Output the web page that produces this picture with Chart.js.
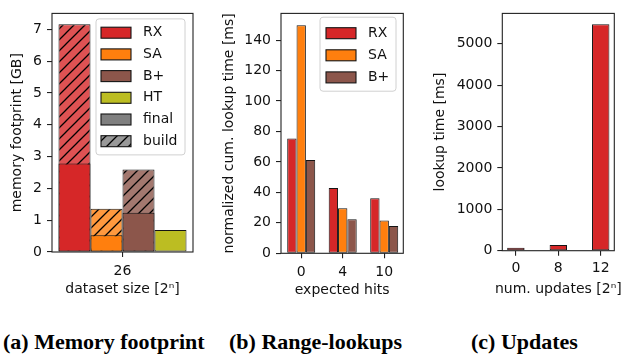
<!DOCTYPE html>
<html><head><meta charset="utf-8">
<script src="https://cdn.jsdelivr.net/npm/chart.js@4/dist/chart.umd.min.js"></script>
<style>
html,body{margin:0;padding:0;background:#fff;width:626px;height:354px;overflow:hidden;}
canvas.panel{position:absolute;top:0;}
.cap{position:absolute;top:331px;font:bold 22px "Liberation Serif",serif;line-height:22px;white-space:nowrap;color:#000;}
</style></head><body>
<canvas id="ca" class="panel" width="210" height="300" style="left:0;width:210px;height:300px"></canvas>
<canvas id="cb" class="panel" width="210" height="300" style="left:210px;width:210px;height:300px"></canvas>
<canvas id="cc" class="panel" width="206" height="300" style="left:420px;width:206px;height:300px"></canvas>
<div class="cap" style="left:3px">(a) Memory footprint</div>
<div class="cap" style="left:229px">(b) Range-lookups</div>
<div class="cap" style="left:471px">(c) Updates</div>
<script>
// ---------- data ----------
const sizeCategories = ['26'];
const methods = ['RX', 'SA', 'B+', 'HT'];
const finalGB = [2.78, 0.53, 1.23, 0.69];
const buildGB = [7.16, 1.36, 2.59, null];
const memTicks = [0, 1, 2, 3, 4, 5, 6, 7];

const hitsCategories = ['0', '4', '10'];
const rangeRX = [75.3, 42.8, 36.1];
const rangeSA = [149.7, 29.6, 21.6];
const rangeBP = [61.2, 22.3, 17.9];
const rangeTicks = [0, 20, 40, 60, 80, 100, 120, 140];

const updateCategories = ['0', '8', '12'];
const updateRX = [70, 140, 5470];
const updateTicks = [0, 1000, 2000, 3000, 4000, 5000];

// ---------- styles ----------
Chart.defaults.font.family = "'DejaVu Sans', sans-serif";
Chart.defaults.font.size = 14;
Chart.defaults.color = '#111';
Chart.defaults.animation = false;

const colors = ['#d62728', '#ff7f0e', '#8c564b', '#bcbd22'];
const buildColors = ['#de5253', '#ff993e', '#a3786f', null];
const EDGE = '#151515';

function hatch(color) {
  const s = 11, c = document.createElement('canvas');
  c.width = s; c.height = s;
  const g = c.getContext('2d');
  g.fillStyle = color; g.fillRect(0, 0, s, s);
  g.strokeStyle = '#000'; g.lineWidth = 1.3;
  g.beginPath();
  g.moveTo(0, s); g.lineTo(s, 0);
  g.moveTo(-1, 1); g.lineTo(1, -1);
  g.moveTo(s - 1, s + 1); g.lineTo(s + 1, s - 1);
  g.stroke();
  return g.createPattern(c, 'repeat');
}

const frame = {
  id: 'frame',
  afterDatasetsDraw(c) {
    const {left, top, right, bottom} = c.chartArea;
    const g = c.ctx; g.save();
    g.strokeStyle = '#222'; g.lineWidth = 1.1;
    g.strokeRect(left, top, right - left, bottom - top);
    g.restore();
  }
};

// x-axis title drawn without width limit (Chart.js squeezes titles to the axis width)
function freeXTitle(text, cy) {
  return {
    id: 'freeXTitle',
    afterDraw(c) {
      const g = c.ctx, ca = c.chartArea;
      g.save();
      g.fillStyle = '#111'; g.font = "14px 'DejaVu Sans'";
      g.textAlign = 'center'; g.textBaseline = 'middle';
      g.fillText(text, (ca.left + ca.right) / 2, cy);
      g.restore();
    }
  };
}

function legendPlugin(items, geo) {
  return {
    id: 'customLegend',
    afterDraw(c) {
      const g = c.ctx, ca = c.chartArea;
      const bx = ca.right - geo.dr - geo.w, by = ca.top + geo.dt;
      g.save();
      g.beginPath();
      g.roundRect(bx, by, geo.w, geo.h, 3);
      g.fillStyle = 'rgba(255,255,255,0.85)'; g.fill();
      g.strokeStyle = '#d0d0d0'; g.lineWidth = 1; g.stroke();
      items.forEach((it, i) => {
        const cy = by + geo.row0 + i * geo.step;
        g.fillStyle = it.fill;
        g.fillRect(bx + geo.sx, cy - 5.5, 30, 11);
        g.strokeStyle = EDGE; g.lineWidth = 1.1;
        g.strokeRect(bx + geo.sx, cy - 5.5, 30, 11);
        g.fillStyle = '#111'; g.font = "14px 'DejaVu Sans'";
        g.textAlign = 'left'; g.textBaseline = 'middle';
        g.fillText(it.text, bx + geo.tx, cy);
      });
      g.restore();
    }
  };
}

function yAxis(o) {
  return {
    min: 0, max: o.max, stacked: false,
    afterBuildTicks: s => { s.ticks = o.ticks.map(v => ({value: v})); },
    afterFit: s => { s.width = o.width; },
    border: {display: false},
    grid: {drawOnChartArea: false, drawTicks: true, tickLength: 5, color: '#222', lineWidth: 1.1},
    ticks: {padding: 5, color: '#111', font: {size: 14}, callback: v => String(v)},
    title: {display: true, text: o.title, color: '#111', font: {size: 14}, padding: {top: o.tp, bottom: 0}}
  };
}
function xTitle(text, pb) {
  return {display: true, text: text, color: '#111', font: {size: 14}, padding: {top: 0, bottom: pb}};
}
const xGrid = {drawOnChartArea: false, drawTicks: true, tickLength: 5, color: '#222', lineWidth: 1.1, offset: false};

// ---------- (a) memory footprint ----------
const dsA = [];
methods.forEach((m, i) => {
  dsA.push({label: m + ' final', data: [finalGB[i]], backgroundColor: colors[i], stack: m, order: 0,
    borderColor: EDGE, borderWidth: 1, borderSkipped: false});
  if (buildGB[i] !== null) {
    dsA.push({label: m + ' build', data: [buildGB[i]], backgroundColor: hatch(buildColors[i]), stack: m, order: 1,
      borderColor: EDGE, borderWidth: 1, borderSkipped: false});
  }
});
const legendA = methods.map((m, i) => ({text: m, fill: colors[i]}))
  .concat([{text: 'final', fill: '#808080'}, {text: 'build', fill: hatch('#999999')}]);

new Chart(document.getElementById('ca'), {
  type: 'bar',
  data: {labels: sizeCategories, datasets: dsA},
  options: {
    responsive: false, animation: false,
    categoryPercentage: 0.908, barPercentage: 1,
    layout: {padding: {top: 12, right: 17, left: 0, bottom: 0}},
    plugins: {legend: {display: false}, tooltip: {enabled: false}},
    scales: {
      x: {type: 'category', stacked: true, offset: true, grid: xGrid, border: {display: false},
        ticks: {padding: 6, color: '#111', font: {size: 14}},
        title: xTitle('dataset size [2ⁿ]', 2),
        afterFit: s => { s.height = 48; }},
      y: yAxis({max: 7.5, ticks: memTicks, width: 52, title: 'memory footprint [GB]', tp: 9})
    }
  },
  plugins: [frame, legendPlugin(legendA, {dr: 8, dt: 5.5, w: 89, h: 136, row0: 13.8, step: 21.7, sx: 5, tx: 47})]
});

// ---------- (b) range lookups ----------
const rangeSeries = [rangeRX, rangeSA, rangeBP];
const dsB = rangeSeries.map((arr, k) => ({
  label: methods[k], data: arr.map((v, i) => ({x: i, y: v})),
  backgroundColor: colors[k], borderColor: EDGE, borderWidth: 1, borderSkipped: false
}));
new Chart(document.getElementById('cb'), {
  type: 'bar',
  data: {datasets: dsB},
  options: {
    responsive: false, animation: false,
    categoryPercentage: 0.675, barPercentage: 1,
    layout: {padding: {top: 11.7, right: 16.7, left: 0, bottom: 0}},
    plugins: {legend: {display: false}, tooltip: {enabled: false}},
    scales: {
      x: {type: 'linear', min: -0.487, max: 2.46, offset: false, grid: xGrid, border: {display: false},
        afterBuildTicks: s => { s.ticks = hitsCategories.map((_, i) => ({value: i})); },
        ticks: {padding: 5.5, color: '#111', font: {size: 14}, callback: v => hitsCategories[v]},
        title: xTitle('expected hits', 1.5),
        afterFit: s => { s.height = 46.7; }},
      y: yAxis({max: 157.5, ticks: rangeTicks, width: 71, title: 'normalized cum. lookup time [ms]', tp: 10.6})
    }
  },
  plugins: [frame, legendPlugin(methods.slice(0, 3).map((m, i) => ({text: m, fill: colors[i]})),
    {dr: 7.3, dt: 3.8, w: 76, h: 74, row0: 16, step: 22.1, sx: 6, tx: 48})]
});

// ---------- (c) updates ----------
new Chart(document.getElementById('cc'), {
  type: 'bar',
  data: {datasets: [{label: 'RX', data: updateRX.map((v, i) => ({x: i, y: v})),
    backgroundColor: colors[0], borderColor: EDGE, borderWidth: 1, borderSkipped: false}]},
  options: {
    responsive: false, animation: false,
    categoryPercentage: 0.41, barPercentage: 1,
    layout: {padding: {top: 11.7, right: 11.7, left: 0, bottom: 0}},
    plugins: {legend: {display: false}, tooltip: {enabled: false}},
    scales: {
      x: {type: 'linear', min: -0.32, max: 2.32, offset: false, grid: xGrid, border: {display: false},
        afterBuildTicks: s => { s.ticks = updateCategories.map((_, i) => ({value: i})); },
        ticks: {padding: 4.5, color: '#111', font: {size: 14}, callback: v => updateCategories[v]},
        afterFit: s => { s.height = 49.3; }},
      y: yAxis({max: 5733, ticks: updateTicks, width: 82.3, title: 'lookup time [ms]', tp: 12.4})
    }
  },
  plugins: [frame, freeXTitle('num. updates [2ⁿ]', 289)]
});
</script>
</body></html>
